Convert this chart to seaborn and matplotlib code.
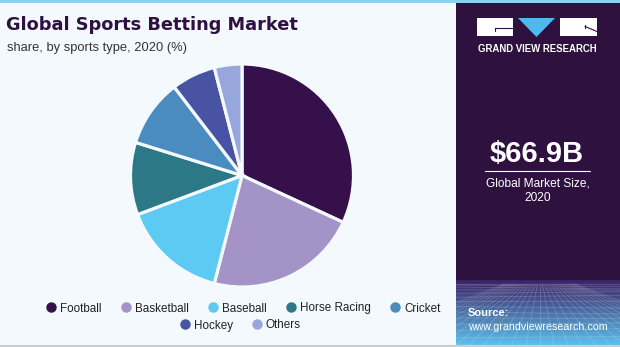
import numpy as np
import matplotlib
matplotlib.use("Agg")
import matplotlib.pyplot as plt
from matplotlib.patches import Rectangle, Polygon
from matplotlib.lines import Line2D
import seaborn as sns

# Market share by sports type, 2020 (%)
sports = ["Football", "Basketball", "Baseball", "Horse Racing", "Cricket", "Hockey", "Others"]
shares = [31.9, 22.1, 15.3, 10.5, 9.8, 6.4, 4.0]
colors = ["#36104a", "#a493c6", "#5ccaf2", "#2d7886", "#4a8cbf", "#4953a3", "#97a6dc"]

title = "Global Sports Betting Market"
subtitle = "share, by sports type, 2020 (%)"
market_size = "$66.9B"
market_caption = "Global Market Size,\n2020"

sns.set_theme(style="white")
plt.rcParams["font.family"] = ["Liberation Sans", "DejaVu Sans"]

W, H = 620, 347
BG = "#f4f9fd"
PANEL = "#2f1140"

fig = plt.figure(figsize=(W / 100, H / 100), dpi=100)
fig.patch.set_facecolor(BG)

# Full-figure canvas in pixel coordinates for the decorations
canvas = fig.add_axes([0, 0, 1, 1])
canvas.set_xlim(0, W)
canvas.set_ylim(H, 0)
canvas.axis("off")
canvas.set_zorder(0)

# top accent strip and bottom border
canvas.add_patch(Rectangle((0, 0), W, 2.5, color="#8fd0f0", lw=0))
canvas.add_patch(Rectangle((0, H - 2), W, 2, color="#c9ccd0", lw=0))

# right info panel
px0 = 456
canvas.add_patch(Rectangle((px0, 2.5), W - px0, H - 4.5, color=PANEL, lw=0))

# gradient band with a perspective grid at the bottom of the panel
gy0, gy1 = 280, H - 2
grad = np.linspace(0, 1, 100)[:, None]
c_top = np.array(matplotlib.colors.to_rgb("#3b2366"))
c_bot = np.array(matplotlib.colors.to_rgb("#5cbfea"))
img = c_top[None, None, :] * (1 - grad[..., None]) + c_bot[None, None, :] * grad[..., None]
img = np.repeat(img, 2, axis=1)
canvas.imshow(img, extent=(px0, W, gy1, gy0), aspect="auto", zorder=1)
for k in range(14):
    t = (k / 13) ** 1.6
    y = gy0 + 4 + t * (gy1 - gy0 - 4)
    canvas.plot([px0, W], [y, y + 2 * np.sin(k)], color="white", alpha=0.18, lw=0.6, zorder=2)
vx = 540
for k in range(-14, 15):
    xb = vx + k * 14
    canvas.plot([vx + k * 2.5, xb], [gy0 + 4, gy1], color="white", alpha=0.18, lw=0.6, zorder=2)
canvas.set_xlim(0, W)
canvas.set_ylim(H, 0)

# logo
canvas.add_patch(Rectangle((477, 18), 36, 17.5, color="white", lw=0, zorder=3))
canvas.add_patch(Polygon([(518, 18), (555, 18), (536.5, 37)], color="#4fb8ec", lw=0, zorder=3))
canvas.add_patch(Rectangle((560, 18), 37, 17.5, color="white", lw=0, zorder=3))
canvas.plot([495, 513], [28, 28], color=PANEL, lw=0.8, zorder=4)
canvas.plot([495, 495], [28, 31], color=PANEL, lw=0.8, zorder=4)
canvas.plot([585, 597], [26.5, 31.5], color=PANEL, lw=0.8, zorder=4)
canvas.plot([585, 585], [25, 28], color=PANEL, lw=0.8, zorder=4)
canvas.text(537.5, 48.5, "GRAND VIEW RESEARCH", color="white", fontsize=6.9,
            fontweight="bold", ha="center", va="center", zorder=4)

# market size block
canvas.text(537, 154, market_size, color="white", fontsize=21, fontweight="bold",
            ha="center", va="center", zorder=4)
canvas.plot([485, 590], [171, 171], color="white", lw=0.8, zorder=4)
canvas.text(537.5, 190.5, market_caption, color="white", fontsize=8.6,
            ha="center", va="center", linespacing=1.25, zorder=4)

# source
canvas.text(468, 313, "Source:", color="white", fontsize=8, fontweight="bold",
            ha="left", va="center", zorder=4)
canvas.text(468, 326.5, "www.grandviewresearch.com", color="white", fontsize=7.7,
            ha="left", va="center", zorder=4)

# titles
canvas.text(6, 25, title, color="#2e1140", fontsize=12.8, fontweight="bold",
            family="DejaVu Sans", ha="left", va="center", zorder=4)
canvas.text(7, 48, subtitle, color="#333333", fontsize=9.3,
            ha="left", va="center", zorder=4)

# pie
cx, cy, r = 242, 175.5, 111.5
ax = fig.add_axes([(cx - r) / W, (H - cy - r) / H, 2 * r / W, 2 * r / H])
ax.set_zorder(2)
ax.pie(shares, colors=colors, startangle=90, counterclock=False, radius=1,
       wedgeprops=dict(edgecolor=BG, linewidth=2.3))
ax.set_xlim(-1, 1)
ax.set_ylim(-1, 1)
ax.set_aspect("equal")
ax.axis("off")

# legend in two centred rows
def handles(names, cols):
    return [Line2D([0], [0], marker="o", linestyle="", markersize=6.5,
                   markerfacecolor=c, markeredgecolor=c, label=n)
            for n, c in zip(names, cols)]

leg_kw = dict(frameon=False, fontsize=8.4, handletextpad=0.25, columnspacing=1.6,
              handlelength=1.0, borderpad=0, labelcolor="#222222")
leg1 = fig.legend(handles=handles(sports[:5], colors[:5]), ncol=5, loc="center",
                  bbox_to_anchor=(243 / W, 1 - 308.5 / H), **leg_kw)
leg2 = fig.legend(handles=handles(sports[5:], colors[5:]), ncol=2, loc="center",
                  bbox_to_anchor=(240 / W, 1 - 325.5 / H), **leg_kw)

fig.savefig("out.png", dpi=100, facecolor=BG)
